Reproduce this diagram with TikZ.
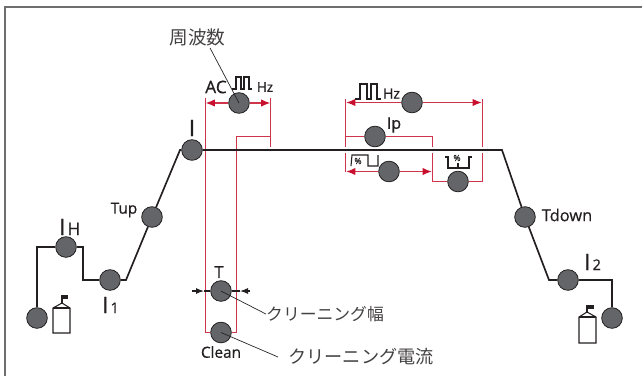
\documentclass[tikz,border=0pt]{standalone}
\usepackage{fontspec}
\setmainfont[FakeBold=0.6]{Open Sans}
\newfontfamily\cjk{Noto Sans CJK JP}
\usetikzlibrary{arrows.meta}
\definecolor{knob}{HTML}{636569}
\definecolor{redl}{HTML}{D0344A}
\definecolor{redt}{HTML}{C8102E}
\definecolor{ink}{HTML}{231F20}
\definecolor{framec}{HTML}{6E6E6E}
\newcommand{\fsz}[1]{\fontsize{#1pt}{#1pt}\selectfont}
\tikzset{
 x=0.75pt,y=-0.75pt,
 knobn/.style={circle,draw=ink,fill=knob,line width=0.6pt,minimum size=15.5pt,inner sep=0pt},
 curve/.style={draw=ink,line width=1.25pt,line join=miter},
 redline/.style={draw=redl,line width=1.05pt},
 redarrow/.style={redline,-{Latex[length=7pt,width=5.5pt,color=redt]}},
 lab/.style={inner sep=0pt,text=ink,font=\fsz{11.5}},
 jp/.style={inner sep=0pt,text=ink!85,font=\cjk\fsz{12.6}},
 lead/.style={draw=ink,line width=0.5pt},
 thin/.style={draw=ink,line width=0.8pt},
 blackarrow/.style={draw=ink,line width=0.8pt,-{Latex[length=6pt,width=4.5pt]}},
}
\begin{document}
\begin{tikzpicture}
\useasboundingbox (0,0) rectangle (642,376);
\draw[draw=framec,line width=0.8pt] (5,376) -- (5,7) -- (642,7);
% knobs
\node[knobn] (g1) at (37,318) {};
\node[knobn] (ih) at (66,247) {};
\node[knobn] (i1) at (110,280) {};
\node[knobn] (tup) at (152,217) {};
\node[knobn] (ipk) at (192,150) {};
\node[knobn] (ac) at (239,103) {};
\node[knobn] (hz) at (412,102.5) {};
\node[knobn] (ip) at (375,136.5) {};
\node[knobn] (pa) at (389,171.5) {};
\node[knobn] (pb) at (458,181.5) {};
\node[knobn] (td) at (525,217) {};
\node[knobn] (i2) at (568,280) {};
\node[knobn] (g2) at (612,318) {};
\node[knobn] (tt) at (221,291) {};
\node[knobn] (cl) at (221,332.5) {};
\coordinate (topR) at (502,150);
% red
\draw[redline] (205.5,98) -- (205.5,332.5) -- (cl.west);
\draw[redline] (270.5,98) -- (270.5,147);
\draw[redline] (270.5,136.5) -- (236.5,136.5) -- (236.5,332.5) -- (cl.east);
\draw[redarrow] (ac.west) -- (205.5,103);
\draw[redarrow] (ac.east) -- (270.5,103);
\draw[redline] (345.5,99) -- (345.5,147);
\draw[redline] (345.5,153) -- (345.5,171.5);
\draw[redline] (482.5,99) -- (482.5,147);
\draw[redline] (482.5,153) -- (482.5,181.5) -- (pb.east);
\draw[redarrow] (hz.west) -- (346,102.5);
\draw[redarrow] (hz.east) -- (482,102.5);
\draw[redline] (345.5,136.5) -- (ip.west);
\draw[redline] (ip.east) -- (432.5,136.5) -- (432.5,147);
\draw[redline] (432.5,153) -- (432.5,181.5) -- (pb.west);
\draw[redarrow] (pa.west) -- (346,171.5);
\draw[redarrow] (pa.east) -- (432,171.5);
% curve
\coordinate (c1) at (37,247);
\coordinate (c2) at (83,247);
\coordinate (c3) at (83,280);
\coordinate (c4) at (126,280);
\coordinate (c5) at (180,150);
\coordinate (c6) at (549,280);
\coordinate (c7) at (612,280);
\draw[curve] (g1) -- (c1) -- (ih);
\draw[curve] (ih) -- (c2) -- (c3) -- (i1);
\draw[curve] (i1) -- (c4) -- (tup);
\draw[curve] (tup) -- (c5) -- (ipk);
\draw[curve] (ipk) -- (topR) -- (td);
\draw[curve] (td) -- (c6) -- (i2);
\draw[curve] (i2) -- (c7) -- (g2);
% T arrows
\coordinate (tal) at (192,291);
\coordinate (tatl) at (204,291);
\coordinate (tar) at (250,291);
\coordinate (tatr) at (240,291);
\draw[blackarrow] (tal) -- (tatl);
\draw[thin] (tatl) -- (tt.west);
\draw[blackarrow] (tar) -- (tatr);
\draw[thin] (tatr) -- (tt.east);
% gas cylinders
\draw[thin] (53,333) -- (53,308) -- (62,303) -- (70,308) -- (70,333) -- cycle;
\draw[thin] (53,308) -- (70,308);
\draw[thin] (62,303) -- (62,295);
\fill[ink] (61.5,295) rectangle (68,299);
\draw[thin] (579,343) -- (579,317) -- (587,312) -- (596,317) -- (596,343) -- cycle;
\draw[thin] (579,317) -- (596,317);
\draw[thin] (587,312) -- (587,305);
\fill[ink] (586.5,305) rectangle (594,309);
% pulse icons
\draw[thin] (232,89) -- (236,89) -- (236,77) -- (241,77) -- (241,89) -- (244,89) -- (244,77) -- (249,77) -- (249,89) -- (252,89);
\draw[thin] (355,99) -- (360,99) -- (360,84) -- (367,84) -- (367,99) -- (371,99) -- (371,84) -- (377,84) -- (377,99) -- (381,99);
\draw[thin] (351,166) -- (352,155) -- (368,155) -- (368,166) -- (378,166) -- (378,155);
\draw[thin] (445,157) -- (448,157) -- (448,168) -- (469,168) -- (469,157) -- (472,157);
\draw[thin] (458,168) -- (458,163);
% labels
\node[lab,font=\fsz{13}] (lac) at (216,87) {AC};
\node[lab,font=\fsz{10}] (lhz) at (265,87) {Hz};
\node[lab,font=\fsz{10.5}] (lhz2) at (391.5,93.5) {Hz};
\node[lab,font=\fsz{12}] (lip) at (394,125) {Ip};
\node[lab,font=\fsz{6.5}] (lpa) at (358,161) {\%};
\node[lab,font=\fsz{6.5}] (lpb) at (457,158) {\%};
\node[lab] (ltup) at (124,210) {Tup};
\node[lab,font=\fsz{12.3}] (ltd) at (567,215) {Tdown};
\node[lab,font=\fsz{12.5}] (lt) at (219,272) {T};
\node[lab] (lcl) at (221,352) {Clean};
\node[lab,anchor=base west,font=\fsz{17}] (lih) at (59,235) {I\kern1.5pt{\fsz{13}H}};
\node[lab,anchor=base west,font=\fsz{17}] (li1) at (102,313) {I\kern1.5pt{\fsz{11}1}};
\node[lab,anchor=base west,font=\fsz{17}] (li2) at (584,270) {I\kern1.5pt{\fsz{11}2}};
\node[lab,anchor=base,font=\fsz{17}] (li) at (192,136) {I};
\node[jp,font=\cjk\fsz{14}] (jf) at (197.5,37) {周波数};
\node[jp] (jw) at (325,314) {クリーニング幅};
\node[jp,font=\cjk\fsz{13.6}] (jc) at (361,357) {クリーニング電流};
% leaders
\draw[lead] (jf.south)++(12.5,2) -- (ac.center);
\draw[lead] (tt.center) -- (jw.west);
\draw[lead] (cl.center) -- (278,357);
\end{tikzpicture}
\end{document}
